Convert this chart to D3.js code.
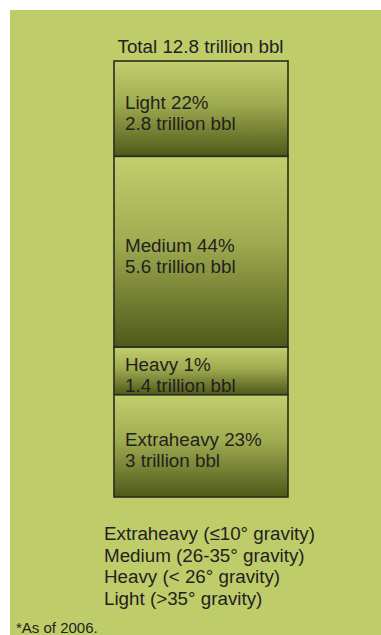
<!DOCTYPE html>
<html>
<head>
<meta charset="utf-8">
<script src="https://cdn.jsdelivr.net/npm/d3@7"></script>
<style>
  html, body { margin: 0; padding: 0; background: #ffffff; }
  svg { display: block; }
  text { font-family: "Liberation Sans", Arial, sans-serif; fill: #231f20; }
</style>
</head>
<body>
<svg id="chart" width="381" height="635"></svg>
<script>
// Crude oil reserves by gravity class, stacked top to bottom
const categories = ["Light", "Medium", "Heavy", "Extraheavy"];
const shares = [22, 44, 1, 23];          // percent labels
const volumes = [2.8, 5.6, 1.4, 3];       // trillion bbl
const totalLabel = "Total 12.8 trillion bbl";
const legendLines = [
  "Extraheavy (\u226410\u00b0 gravity)",
  "Medium (26-35\u00b0 gravity)",
  "Heavy (< 26\u00b0 gravity)",
  "Light (>35\u00b0 gravity)"
];
const footnote = "*As of 2006.";

const W = 381, H = 635;
const bg = "#bfcc6a";

const svg = d3.select("#chart");

// green panel with white margin at top and left
svg.append("rect").attr("x", 10).attr("y", 10).attr("width", W - 10).attr("height", H - 10).attr("fill", bg);

// vertical gradient used by every block
const defs = svg.append("defs");
const grad = defs.append("linearGradient")
  .attr("id", "blockFill").attr("x1", 0).attr("y1", 0).attr("x2", 0).attr("y2", 1);
grad.append("stop").attr("offset", "0%").attr("stop-color", "#c3ce6d");
grad.append("stop").attr("offset", "45%").attr("stop-color", "#9fab50");
grad.append("stop").attr("offset", "100%").attr("stop-color", "#4e5919");

// stacked layout
let acc = 0;
const blocks = categories.map((c, i) => {
  const b = { name: c, share: shares[i], value: volumes[i], y0: acc, y1: acc + volumes[i] };
  acc += volumes[i];
  return b;
});
const total = acc;

const x = d3.scaleBand().domain(["stack"]).range([114, 288]).padding(0);
const y = d3.scaleLinear().domain([0, total]).range([61, 497]);

const g = svg.append("g");
const blk = g.selectAll("g.block").data(blocks).join("g").attr("class", "block");

blk.append("rect")
  .attr("x", x("stack"))
  .attr("y", d => y(d.y0))
  .attr("width", x.bandwidth())
  .attr("height", d => y(d.y1) - y(d.y0))
  .attr("fill", "url(#blockFill)")
  .attr("stroke", "#2b2b22")
  .attr("stroke-width", 1.6);

const fs = 18.8;
blk.each(function(d) {
  const mid = (y(d.y0) + y(d.y1)) / 2;
  const t = d3.select(this).append("text")
    .attr("x", x("stack") + 11)
    .style("font-size", fs + "px");
  t.append("tspan").attr("x", x("stack") + 11).attr("y", mid).text(`${d.name} ${d.share}%`);
  t.append("tspan").attr("x", x("stack") + 11).attr("y", mid + 21.5).text(`${d3.format("~g")(d.value)} trillion bbl`);
});

svg.append("text")
  .attr("x", (x.range()[0] + x.range()[1]) / 2 - 0.5)
  .attr("y", 52.5)
  .attr("text-anchor", "middle")
  .style("font-size", fs + "px")
  .text(totalLabel);

svg.append("g").selectAll("text").data(legendLines).join("text")
  .attr("x", 104)
  .attr("y", (d, i) => 540 + i * 21.7)
  .style("font-size", fs + "px")
  .text(d => d);

svg.append("text")
  .attr("x", 16)
  .attr("y", 632.5)
  .style("font-family", "'Liberation Sans Narrow', 'Liberation Sans', sans-serif")
  .style("font-stretch", "condensed")
  .style("font-size", "15px")
  .text(footnote);
</script>
</body>
</html>
